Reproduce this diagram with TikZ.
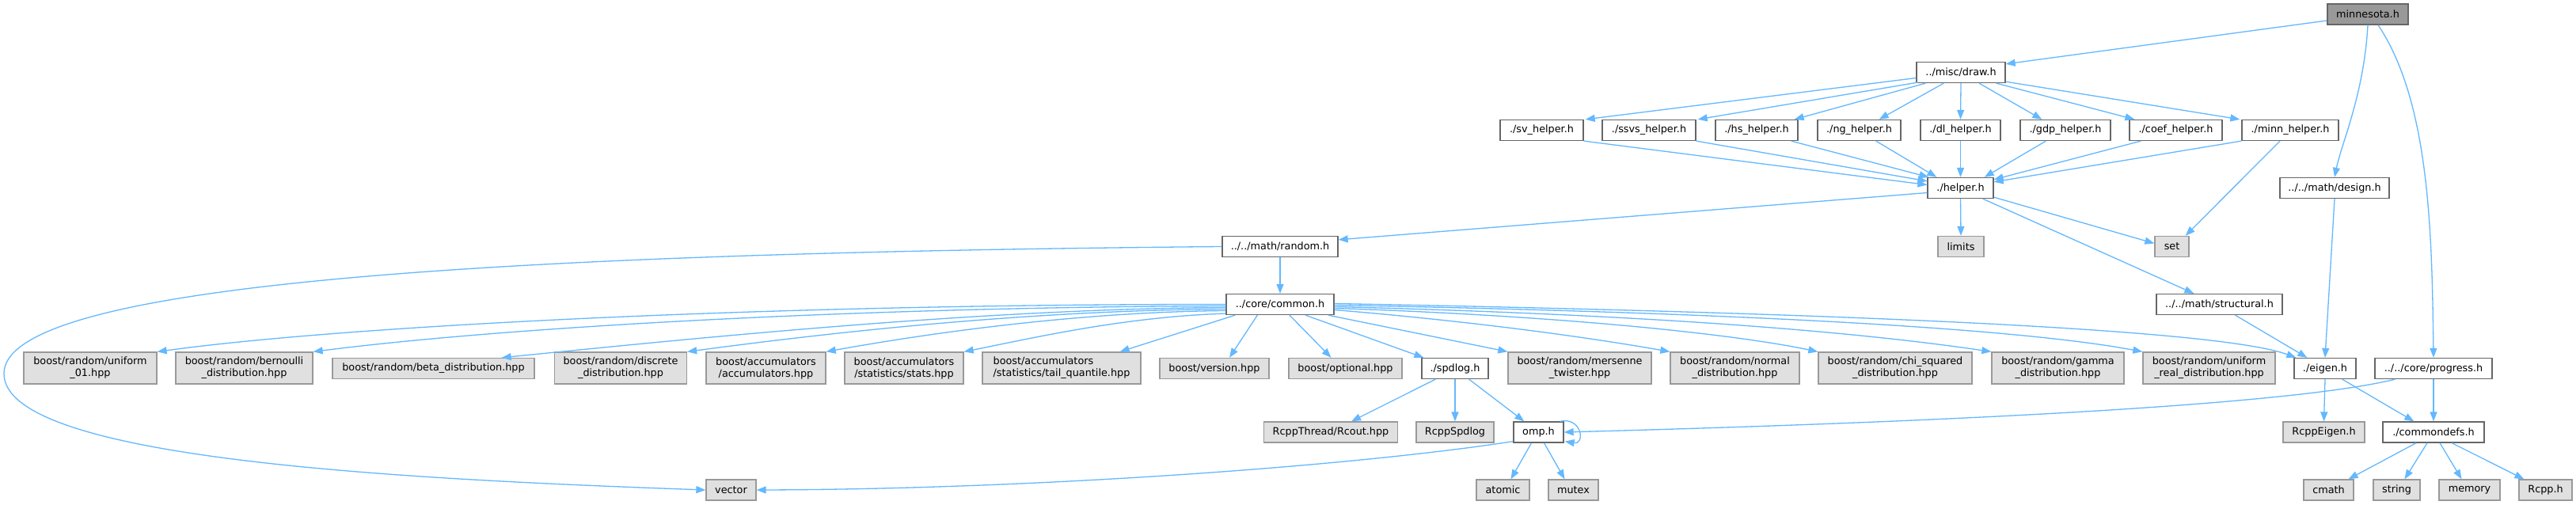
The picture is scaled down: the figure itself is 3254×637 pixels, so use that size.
\documentclass[tikz,border=0pt]{standalone}
\usepackage{fontspec}
\setmainfont{DejaVu Sans}
\usetikzlibrary{arrows.meta,calc}
\definecolor{edgeblue}{HTML}{63B8FF}
\definecolor{rootfill}{HTML}{999999}
\definecolor{darkborder}{HTML}{666666}
\definecolor{extfill}{HTML}{E0E0E0}
\definecolor{extborder}{HTML}{999999}
\begin{document}
\begin{tikzpicture}[x=1pt,y=-1pt,
  box/.style={rectangle, font=\fontsize{12.8}{15}\selectfont, inner xsep=3pt, inner ysep=2pt, line width=1.3pt, minimum height=26pt},
  wnode/.style={box, draw=darkborder, fill=white},
  rnode/.style={box, draw=darkborder, fill=rootfill},
  xnode/.style={box, draw=extborder, fill=extfill},
  two/.style={minimum height=40pt, align=center},
  dep/.style={draw=edgeblue, line width=1.3pt, -{Triangle[length=12pt,width=9pt]}}
]
\fill[white] (0,0) rectangle (3254,637);
\useasboundingbox (0,0) rectangle (3254,637);

% row 1-6
\node[rnode, minimum width=102pt] (root) at (2991,18) {minnesota.h};
\node[wnode, minimum width=112pt] (draw) at (2477,91.5) {../misc/draw.h};
\node[wnode, minimum width=105pt] (sv) at (1947.5,164.5) {./sv\_helper.h};
\node[wnode, minimum width=118pt] (ssvs) at (2083,164.5) {./ssvs\_helper.h};
\node[wnode, minimum width=104pt] (hs) at (2219,164.5) {./hs\_helper.h};
\node[wnode, minimum width=105pt] (ng) at (2348.5,164.5) {./ng\_helper.h};
\node[wnode, minimum width=101pt] (dl) at (2476.5,164.5) {./dl\_helper.h};
\node[wnode, minimum width=114pt] (gdp) at (2609,164.5) {./gdp\_helper.h};
\node[wnode, minimum width=117pt] (coef) at (2748.5,164.5) {./coef\_helper.h};
\node[wnode, minimum width=122pt] (minn) at (2893,164.5) {./minn\_helper.h};
\node[wnode, minimum width=83pt] (helper) at (2476.5,237.5) {./helper.h};
\node[wnode, minimum width=138pt] (design) at (2949,237.5) {../../math/design.h};
\node[xnode, minimum width=58pt] (limits) at (2477,311.5) {limits};
\node[xnode, minimum width=43pt] (set) at (2743.5,311.5) {set};
\node[wnode, minimum width=146pt] (random) at (1617,311.5) {../../math/random.h};
\node[wnode, minimum width=136pt] (common) at (1617,384.5) {../core/common.h};
\node[wnode, minimum width=159pt] (structural) at (2803.5,384.5) {../../math/structural.h};

% row 7
\node[xnode, two, minimum width=168pt] (u01) at (114,465) {boost/random/uniform\\\_01.hpp};
\node[xnode, two, minimum width=173pt] (bern) at (308.5,465) {boost/random/bernoulli\\\_distribution.hpp};
\node[xnode, minimum width=255pt] (beta) at (547.5,465.5) {boost/random/beta\_distribution.hpp};
\node[xnode, two, minimum width=167pt] (disc) at (784,465) {boost/random/discrete\\\_distribution.hpp};
\node[xnode, two, minimum width=151pt] (acc) at (967.5,465) {boost/accumulators\\/accumulators.hpp};
\node[xnode, two, minimum width=150pt] (stats) at (1142,465) {boost/accumulators\\/statistics/stats.hpp};
\node[xnode, two, align=left, minimum width=200pt] (tail) at (1341,465) {boost/accumulators\\/statistics/tail\_quantile.hpp};
\node[xnode, minimum width=138pt] (version) at (1534,465.5) {boost/version.hpp};
\node[xnode, minimum width=143pt] (optional) at (1699.5,465.5) {boost/optional.hpp};
\node[wnode, minimum width=84pt] (spdlog) at (1838,465.5) {./spdlog.h};
\node[xnode, two, minimum width=181pt] (mers) at (1995.5,465) {boost/random/mersenne\\\_twister.hpp};
\node[xnode, two, minimum width=163pt] (normal) at (2191.5,465) {boost/random/normal\\\_distribution.hpp};
\node[xnode, two, minimum width=194pt] (chi) at (2394,465) {boost/random/chi\_squared\\\_distribution.hpp};
\node[xnode, two, minimum width=167pt] (gamma) at (2599.5,465) {boost/random/gamma\\\_distribution.hpp};
\node[xnode, two, minimum width=167pt] (ureal) at (2790.5,465) {boost/random/uniform\\\_real\_distribution.hpp};
\node[wnode, minimum width=78pt] (eigen) at (2937,465.5) {./eigen.h};
\node[wnode, minimum width=148pt] (progress) at (3074,465.5) {../../core/progress.h};

% row 8
\node[xnode, minimum width=169pt] (rcout) at (1681,546) {RcppThread/Rcout.hpp};
\node[xnode, minimum width=98pt] (rspd) at (1838,546) {RcppSpdlog};
\node[wnode, minimum width=63pt] (omp) at (1943.5,546) {omp.h};
\node[xnode, minimum width=103pt] (reigen) at (2935.5,546) {RcppEigen.h};
\node[wnode, minimum width=128pt] (cdefs) at (3074,546) {./commondefs.h};

% row 9
\node[xnode, minimum width=63pt] (vector) at (923.5,619) {vector};
\node[xnode, minimum width=67pt] (atomic) at (1898.5,619) {atomic};
\node[xnode, minimum width=63pt] (mutex) at (1987.5,619) {mutex};
\node[xnode, minimum width=63pt] (cmath) at (2941.5,619) {cmath};
\node[xnode, minimum width=59pt] (string) at (3027.5,619) {string};
\node[xnode, minimum width=77pt] (memory) at (3119.5,619) {memory};
\node[xnode, minimum width=67pt] (rcpp) at (3215.5,619) {Rcpp.h};

% edges from root
\draw[dep] ($(root.west)+(0,8)$) -- ($(draw.north east)+(0,3)$);
\draw[dep] (root.south) .. controls (2986,120) and (2958,180) .. (design.north);
\draw[dep] ($(root.south)+(13,0)$) .. controls (3070,130) and (3072,300) .. (progress.north);

% draw.h -> helpers
\draw[dep] ($(draw.west)+(0,7)$) -- ($(sv.north east)+(2,0)$);
\draw[dep] ($(draw.south west)+(2,-1)$) -- ($(ssvs.north east)+(2,0)$);
\draw[dep] ($(draw.south west)+(12,0)$) -- ($(hs.north east)+(-5,0)$);
\draw[dep] ($(draw.south west)+(35,0)$) -- ($(ng.north east)+(-28,0)$);
\draw[dep] (draw.south) -- (dl.north);
\draw[dep] ($(draw.south)+(23,0)$) -- ($(gdp.north west)+(28,0)$);
\draw[dep] ($(draw.south east)+(-12,0)$) -- ($(coef.north west)+(7,0)$);
\draw[dep] ($(draw.south east)+(0,-2)$) -- ($(minn.north west)+(-2,0)$);

% helpers -> helper.h
\draw[dep] (sv.south east) -- ($(helper.west)+(0,-4)$);
\draw[dep] (ssvs.south east) -- ($(helper.north west)+(0,5)$);
\draw[dep] ($(hs.south east)+(-9,0)$) -- ($(helper.north west)+(2,0)$);
\draw[dep] ($(ng.south west)!0.7!(ng.south east)$) -- ($(helper.north west)+(12,0)$);
\draw[dep] (dl.south) -- (helper.north);
\draw[dep] ($(gdp.south west)+(33,0)$) -- ($(helper.north east)+(-12,0)$);
\draw[dep] ($(coef.south west)+(15,0)$) -- ($(helper.north east)+(0,3)$);
\draw[dep] (minn.south west) -- ($(helper.north east)+(0,6)$);
\draw[dep] ($(minn.south)+(-13,0)$) -- ($(set.north east)+(-5,0)$);

% helper.h
\draw[dep] (helper.south) -- (limits.north);
\draw[dep] ($(helper.south east)+(0,-2)$) -- ($(set.west)+(0,-4)$);
\draw[dep] ($(helper.south east)+(-14,0)$) -- ($(structural.north west)+(48,0)$);
\draw[dep] ($(helper.west)+(0,6)$) -- ($(random.north east)+(0,5)$);

% random.h
\draw[dep] (random.south) -- (common.north);
\draw[dep] (random.west) .. controls (600,320) and (5,360) .. (5,472) .. controls (5,580) and (500,605) .. (vector.west);

% design / structural -> eigen
\draw[dep] (design.south) -- (eigen.north);
\draw[dep] ($(structural.south)+(20,0)$) -- ($(eigen.north west)+(17,0)$);

% common.h fan
\draw[dep] (common.west) .. controls (1000,384) and (450,410) .. (u01.north east);
\draw[dep] ($(common.west)+(0,2)$) .. controls (1100,388) and (650,412) .. (bern.north east);
\draw[dep] ($(common.west)+(0,4)$) .. controls (1250,390) and (900,425) .. ($(beta.north east)+(-42,0)$);
\draw[dep] ($(common.west)+(0,6)$) .. controls (1300,392) and (1050,420) .. (disc.north east);
\draw[dep] ($(common.west)+(0,8)$) .. controls (1350,394) and (1150,425) .. (acc.north east);
\draw[dep] ($(common.south west)+(0,-2)$) .. controls (1420,400) and (1300,428) .. (stats.north east);
\draw[dep] ($(common.south west)+(12,0)$) -- ($(tail.north east)+(-27,0)$);
\draw[dep] ($(common.south west)+(40,0)$) -- ($(version.north)+(19,0)$);
\draw[dep] ($(common.south)+(12,0)$) -- ($(optional.north)+(-18,0)$);
\draw[dep] ($(common.south)+(32,0)$) -- ($(spdlog.north west)+(3,0)$);
\draw[dep] ($(common.south east)+(-8,0)$) -- (mers.north west);
\draw[dep] ($(common.east)+(0,7)$) .. controls (1850,405) and (2000,425) .. (normal.north west);
\draw[dep] ($(common.east)+(0,5)$) .. controls (1950,398) and (2180,420) .. (chi.north west);
\draw[dep] ($(common.east)+(0,3)$) .. controls (2100,398) and (2350,420) .. (gamma.north west);
\draw[dep] ($(common.east)+(0,1)$) .. controls (2200,395) and (2550,415) .. (ureal.north west);
\draw[dep] ($(common.east)+(0,-1)$) .. controls (2300,395) and (2800,415) .. ($(eigen.north west)+(3,0)$);

% spdlog
\draw[dep] ($(spdlog.south west)+(18,0)$) -- ($(rcout.north)+(26,0)$);
\draw[dep] (spdlog.south) -- (rspd.north);
\draw[dep] ($(spdlog.south east)+(-25,0)$) -- ($(omp.north west)+(14,0)$);

% omp
\draw[dep] ($(omp.north east)+(-5,0)$) .. controls (1998,526) and (2003,562) .. ($(omp.south east)+(1,-2)$);
\draw[dep] ($(progress.south west)+(26,0)$) .. controls (2900,510) and (2500,532) .. (omp.east);
\draw[dep] ($(omp.south west)+(0,-2)$) .. controls (1700,590) and (1300,618) .. (vector.east);
\draw[dep] ($(omp.south)+(-9,0)$) -- ($(atomic.north)+(10,0)$);
\draw[dep] ($(omp.south)+(7,0)$) -- ($(mutex.north)+(-11,0)$);

% progress, eigen, commondefs
\draw[dep] (progress.south) -- (cdefs.north);
\draw[dep] (eigen.south) -- (reigen.north);
\draw[dep] ($(eigen.south east)+(-18,0)$) -- ($(cdefs.north west)+(40,0)$);
\draw[dep] ($(cdefs.south)+(-22,0)$) -- ($(cmath.north)+(25,0)$);
\draw[dep] ($(cdefs.south)+(-8,0)$) -- ($(string.north)+(10,0)$);
\draw[dep] ($(cdefs.south)+(8,0)$) -- ($(memory.north)+(-10,0)$);
\draw[dep] ($(cdefs.south)+(23,0)$) -- ($(rcpp.north west)+(7,0)$);
\end{tikzpicture}
\end{document}
